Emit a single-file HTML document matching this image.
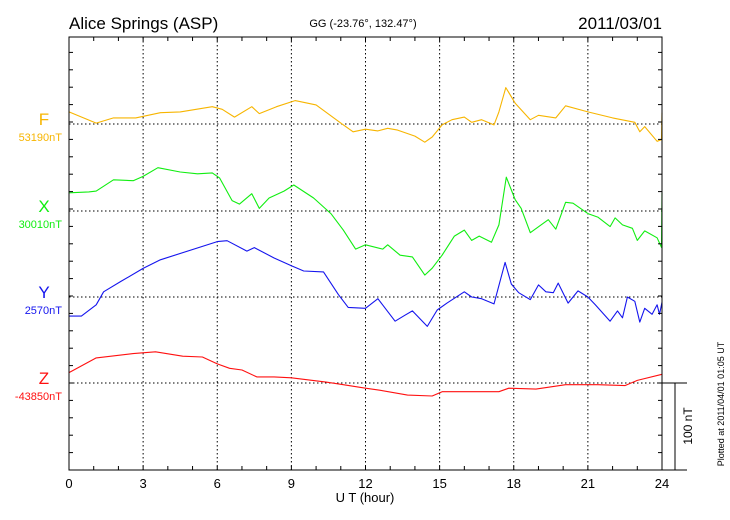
<!DOCTYPE html>
<html><head><meta charset="utf-8"><style>
html,body{margin:0;padding:0;background:#fff;}
svg{display:block;font-family:"Liberation Sans",sans-serif;}
</style></head><body>
<svg id="chart" width="730" height="520" viewBox="0 0 730 520" xmlns="http://www.w3.org/2000/svg">
<text x="69" y="29" font-size="17">Alice Springs (ASP)</text>
<text x="363" y="27" font-size="11" text-anchor="middle">GG (-23.76°, 132.47°)</text>
<text x="662" y="29" font-size="17" text-anchor="end">2011/03/01</text>
<g id="grid"></g>
<g id="series"></g>
<g id="axes"></g>
<text x="365" y="502" font-size="13" text-anchor="middle">U T (hour)</text>
<text transform="translate(692,426) rotate(-90)" font-size="12" text-anchor="middle">100 nT</text>
<text transform="translate(724,404) rotate(-90)" font-size="9" text-anchor="middle">Plotted at 2011/04/01 01:05 UT</text>
</svg>
<script>
const xTicks = [0,3,6,9,12,15,18,21,24];
const seriesNames = ["F","X","Y","Z"];
const baseLabels = ["53190nT","30010nT","2570nT","-43850nT"];
const fHours = [0,1.1,1.8,2.7,3.7,4.5,5.8,6.2,6.7,7.4,7.7,8.4,9.15,10,11,11.5,12,12.5,12.9,13.3,14,14.4,14.7,15.1,15.5,16,16.3,16.7,17.2,17.4,17.68,18.06,18.67,19,19.7,20.1,21,22,22.9,23.1,23.3,23.8,23.98,24];
const fVals = [14,1,7,7,13,14,20,17,8,20,12,20,27,22,1,-9,-6,-8,-5,-7,-14,-21,-15,-1,5,8,2,5,-1,14,42,24,5,10,7,21,14,7,2,-9,-3,-20,-18,13];
const xHours = [0,0.8,1.1,1.8,2.6,3.0,3.6,4.5,5.2,5.8,6.1,6.6,6.9,7.4,7.7,8.1,8.7,9.1,9.9,10.6,11.1,11.6,12.0,12.7,12.9,13.4,13.9,14.4,14.7,15.1,15.6,16.0,16.3,16.6,17.1,17.4,17.7,18.06,18.3,18.67,19.4,19.7,20.1,20.4,21.0,21.4,21.9,22.1,22.4,22.8,23.0,23.3,23.8,23.98,24];
const xVals = [21,22,23,36,35,40,50,45,43,44,38,12,8,20,3,15,23,30,15,-3,-22,-44,-39,-44,-39,-51,-53,-74,-66,-51,-29,-22,-34,-29,-36,-16,39,13,3,-25,-10,-21,10,9,-3,-7,-18,-8,-16,-20,-34,-23,-31,-42,21];
const yHours = [0,0.5,1.1,1.4,2.1,3.0,3.7,6.0,6.4,7.2,7.5,8.3,9.0,9.5,10.3,10.9,11.3,12.0,12.5,13.2,13.6,13.9,14.5,14.9,15.3,16.0,16.3,16.7,17.2,17.65,17.9,18.2,18.67,19.0,19.3,19.6,19.8,20.2,20.6,21.0,21.3,21.9,22.2,22.4,22.6,22.9,23.1,23.3,23.6,23.8,23.9,24];
const yVals = [-22,-22,-9,6,18,33,43,64,65,53,57,45,36,30,29,3,-12,-13,-2,-28,-21,-16,-34,-15,-7,6,0,-2,-8,40,15,5,-3,14,6,5,16,-7,7,0,-9,-28,-16,-24,0,-5,-29,-13,-20,-9,-20,-6];
const zHours = [0,1.1,2.6,3.5,4.6,5.4,6.0,6.5,7.0,7.6,8.3,9.0,10.4,11.1,12.0,12.5,13.7,14.7,15.1,17.4,17.8,18.9,20.1,21.4,22.5,23.0,24];
const zVals = [12,29,34,36,31,30,22,17,15,7,7,6,1,-2,-6,-8,-14,-15,-10,-10,-6,-7,-2,-2,-3,3,10];

const NS = "http://www.w3.org/2000/svg";
const L = 69, R = 662, T = 37, B = 470;
const baselines = [124, 211, 297, 383];
const pxPerNT = 0.866;
const colors = ["#f7b500","#11ee11","#1515ee","#ff1010"];
function xs(h){ return L + (R - L) * h / 24; }
function ys(i, v){ return baselines[i] - v * pxPerNT; }
function mk(tag, attrs, parent){ const e = document.createElementNS(NS, tag); for (const k in attrs) e.setAttribute(k, attrs[k]); parent.appendChild(e); return e; }

const grid = document.getElementById("grid");
const axes = document.getElementById("axes");
const sg = document.getElementById("series");

xTicks.forEach(h => {
  if (h > 0 && h < 24) {
    const gl = mk("line", {x1: xs(h), x2: xs(h), y1: T, y2: B, stroke: "#000", "stroke-width": 1, "stroke-dasharray": "1.5,2.5"}, grid);
    
    
  }
  const t = mk("text", {x: xs(h), y: 488, "font-size": 13, "text-anchor": "middle"}, axes);
  t.textContent = h;
  
  
});
baselines.forEach((b, i) => {
  const gl = mk("line", {x1: L, x2: R, y1: b, y2: b, stroke: "#000", "stroke-width": 1, "stroke-dasharray": "1.5,2.5"}, grid);
  
  
  const n = mk("text", {x: 44, y: b + 1, "font-size": 17, "text-anchor": "middle", fill: colors[i]}, axes);
  n.textContent = seriesNames[i];
  
  
  const v = mk("text", {x: 62, y: b + 17, "font-size": 11, "text-anchor": "end", fill: colors[i]}, axes);
  v.textContent = baseLabels[i];
  
  
});
// minor ticks
for (let h = 0; h <= 24; h++) {
  mk("line", {x1: xs(h), x2: xs(h), y1: T, y2: T + 4, stroke: "#000"}, axes);
  mk("line", {x1: xs(h), x2: xs(h), y1: B, y2: B - 4, stroke: "#000"}, axes);
}
for (let y = B; y >= T; y -= (B - 383) / 5) {
  mk("line", {x1: L, x2: L + 4, y1: y, y2: y, stroke: "#000"}, axes);
  mk("line", {x1: R, x2: R - 4, y1: y, y2: y, stroke: "#000"}, axes);
}
const frame = mk("rect", {x: L, y: T, width: R - L, height: B - T, fill: "none", stroke: "#000", "stroke-width": 1}, axes);


// scale bar
const sb = mk("path", {d: `M${R} 383 H687 M675 383 V${B} M${R} ${B} H687`, stroke: "#000", fill: "none"}, axes);



const allH = [fHours, xHours, yHours, zHours];
const allV = [fVals, xVals, yVals, zVals];
const sNames = ["f-line","x-line","y-line","z-line"];
allH.forEach((hs, i) => {
  const d = hs.map((h, j) => (j ? "L" : "M") + xs(h).toFixed(1) + " " + ys(i, allV[i][j]).toFixed(1)).join(" ");
  const p = mk("path", {d: d, fill: "none", stroke: colors[i], "stroke-width": 1.1, "stroke-linejoin": "round"}, sg);
  
  
});
</script>
</body></html>
